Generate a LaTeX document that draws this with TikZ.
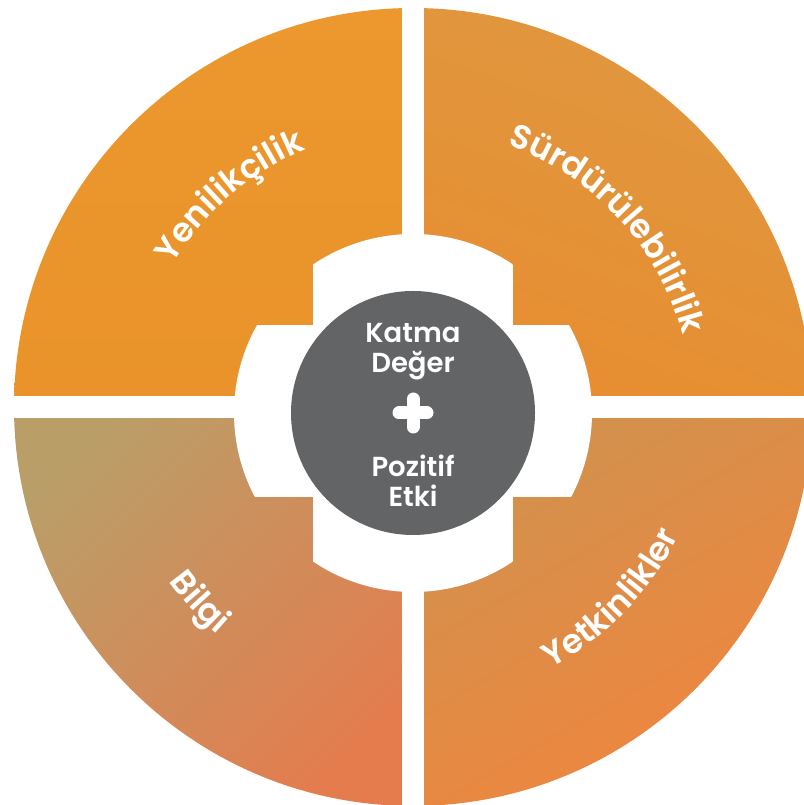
\documentclass[tikz,border=0pt]{standalone}
\usepackage{fontspec}
\setmainfont{Poppins}[BoldFont={Poppins SemiBold}]
\usetikzlibrary{decorations.text,calc}
\definecolor{tlA}{RGB}{236,152,46}
\definecolor{tlB}{RGB}{233,147,42}
\definecolor{trA}{RGB}{224,152,64}
\definecolor{trB}{RGB}{231,141,48}
\definecolor{blA}{RGB}{186,158,104}
\definecolor{blB}{RGB}{228,124,78}
\definecolor{brA}{RGB}{208,146,78}
\definecolor{brB}{RGB}{242,132,60}
\definecolor{hubgray}{RGB}{99,100,102}
\tikzset{
  hubtext/.style={anchor=base, text=white, font=\bfseries\fontsize{27.5}{27.5}\selectfont, inner sep=0pt},
  arclabel/.style={decorate, decoration={text along path, text align=center, text color=white, text={|\bfseries\fontsize{33.5}{33.5}\selectfont|#1}}}
}
\begin{document}
\begin{tikzpicture}[x=1pt,y=1pt]
\useasboundingbox (0,0) rectangle (803,805);
\coordinate (O) at (413,398);
\coordinate (C) at (413,392);
% quadrants
\begin{scope}
  \clip (O) circle[radius=399];
  \shade[shading=axis, top color=tlA, bottom color=tlB] (O) rectangle ++(-410,410);
  \shade[shading=axis, top color=trA, bottom color=trB, shading angle=-20] (O) rectangle ++(410,410);
  \shade[shading=axis, top color=blA, bottom color=blB, shading angle=45] (O) rectangle ++(-410,-410);
  \shade[shading=axis, top color=brA, bottom color=brB, shading angle=30] (O) rectangle ++(410,-410);
\end{scope}
% gaps
\fill[white] (402,-5) rectangle (424,810);
\fill[white] (-5,387) rectangle (810,409);
% central cut-out
\begin{scope}
  \clip (C) circle[radius=179];
  \fill[white] (313,-5) rectangle (513,810);
  \fill[white] (-5,308) rectangle (810,480);
\end{scope}
% hub
\fill[hubgray] (C) circle[radius=122];
\node[hubtext] (k1) at (413,462.3) {Katma};
\node[hubtext] (k2) at (413,432.3) {Değer};
\node[hubtext] (p1) at (413,328) {Pozitif};
\node[hubtext] (p2) at (413,298.3) {Etki};
\draw[white, line width=13pt, line cap=round] (399,392) -- (427,392);
\draw[white, line width=13pt, line cap=round] (413,378) -- (413,406);
% curved labels
\path[arclabel=Yenilikçilik] ($(O)+(176:279)$) arc[start angle=176, end angle=86, radius=279];
\path[arclabel=Sürdürülebilirlik] ($(O)+(98:279)$) arc[start angle=98, end angle=-13, radius=279];
\path[arclabel=Bilgi] ($(O)+(195:300)$) arc[start angle=195, end angle=250, radius=300];
\path[arclabel=Yetkinlikler] ($(O)+(-86:295)$) arc[start angle=-86, end angle=-2, radius=295];
\end{tikzpicture}
\end{document}
